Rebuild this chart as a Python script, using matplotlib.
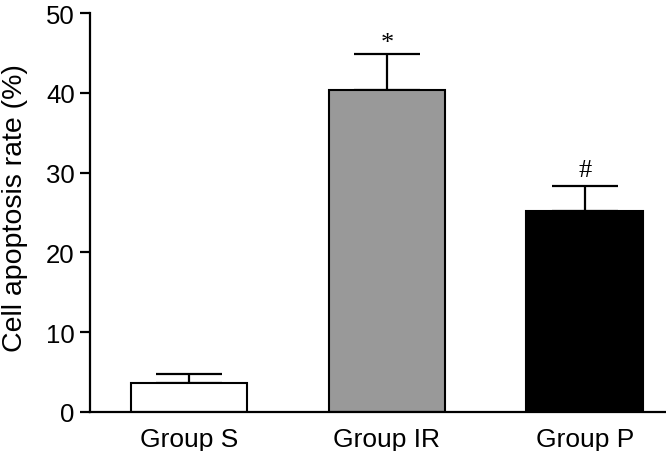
import matplotlib.pyplot as plt
import numpy as np

plt.rcParams["font.family"] = ["Liberation Sans", "DejaVu Sans"]

groups = ["Group S", "Group IR", "Group P"]
rates = [3.6, 40.4, 25.2]
errors = [1.1, 4.5, 3.1]
marks = ["", "*", "#"]
colors = ["white", "#999999", "black"]

fig = plt.figure(figsize=(6.66, 4.52), dpi=100)
ax = fig.add_axes([90 / 666, 39 / 452, 576 / 666, 399 / 452])

x = np.arange(len(groups))
ax.bar(x, rates, width=0.59, color=colors, edgecolor="black", linewidth=1.5, zorder=2)
ax.errorbar(x, rates, yerr=[np.zeros(len(errors)), errors], fmt="none",
            ecolor="black", elinewidth=1.6, capsize=24, capthick=1.6, zorder=1)

# asterisk glyph sits high in the em box, so it needs less lift than '#'
lift = {"*": 0.6, "#": 1.25}
for xi, r, e, m in zip(x, rates, errors, marks):
    if m:
        ax.text(xi, r + e + lift[m], m, ha="center", va="baseline",
                fontsize=19, family=["Liberation Serif", "DejaVu Serif"])

ax.set_xlim(-0.5, 2.41)
ax.set_ylim(0, 50)
ax.set_yticks([0, 10, 20, 30, 40, 50])
ax.set_xticks(x)
ax.set_xticklabels(groups)
ax.set_ylabel("Cell apoptosis rate (%)", fontsize=20.5)
ax.yaxis.set_label_coords(-0.107, 0.513)

for side in ["top", "right"]:
    ax.spines[side].set_visible(False)
for side in ["left", "bottom"]:
    ax.spines[side].set_linewidth(1.6)

ax.tick_params(axis="y", length=7, width=1.6, labelsize=18.5, pad=4)
ax.tick_params(axis="x", length=0, labelsize=19, pad=11)

fig.savefig("out.png", dpi=100)
